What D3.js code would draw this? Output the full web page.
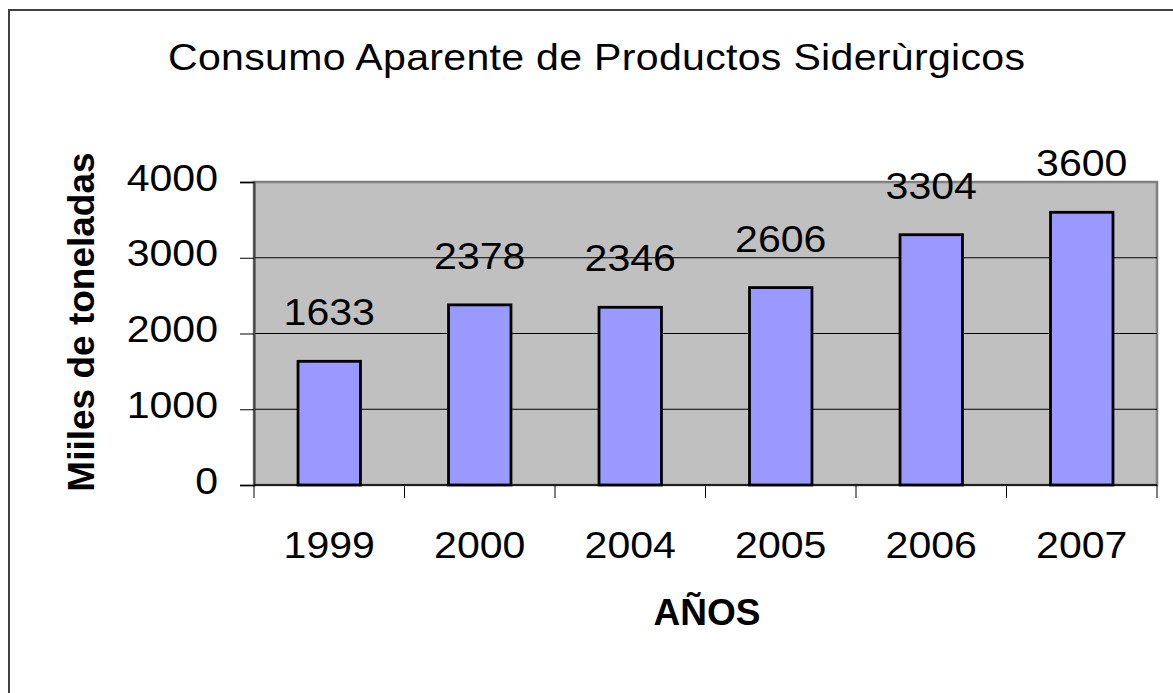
<!DOCTYPE html>
<html>
<head>
<meta charset="utf-8">
<script src="https://cdn.jsdelivr.net/npm/d3@7"></script>
<style>
  html, body { margin: 0; padding: 0; background: #fff; }
  svg { display: block; }
  text { font-family: "Liberation Sans", Arial, sans-serif; }
</style>
</head>
<body>
<svg id="chart" width="1173" height="693"></svg>
<script>
const categories = ["1999", "2000", "2004", "2005", "2006", "2007"];
const values = [1633, 2378, 2346, 2606, 3304, 3600];
const yTicks = [0, 1000, 2000, 3000, 4000];
const title = "Consumo Aparente de Productos Siderùrgicos";
const yTitle = "Miiles de toneladas";
const xTitle = "AÑOS";

const svg = d3.select("#chart");
const W = 1173, H = 693;
const plot = { left: 254, right: 1157, top: 182, bottom: 485 };
const SX = 1.11; // horizontal stretch of regular text

function stretchedText(g, px, py, anchor) {
  return g.append("text")
    .attr("transform", `translate(${px},${py}) scale(${SX},1)`)
    .attr("text-anchor", anchor).attr("font-size", 37).attr("fill", "#000");
}

// outer frame
svg.append("path")
  .attr("d", `M9,${H + 5} L9,10 L${W + 5},10`)
  .attr("fill", "none").attr("stroke", "#404040").attr("stroke-width", 2);

const x = d3.scaleBand().domain(categories)
  .range([plot.left, plot.right]).paddingInner(0.585).paddingOuter(0.2925);
const xOuter = d3.scaleBand().domain(categories).range([plot.left, plot.right]);
const y = d3.scaleLinear().domain([0, 4000]).range([plot.bottom, plot.top]);

// plot background
svg.append("rect")
  .attr("x", plot.left).attr("y", plot.top)
  .attr("width", plot.right - plot.left).attr("height", plot.bottom - plot.top)
  .attr("fill", "#C0C0C0").attr("stroke", "#808080").attr("stroke-width", 2.5);

// gridlines
svg.append("g").selectAll("line").data(yTicks.filter(d => d > 0 && d < 4000)).join("line")
  .attr("x1", plot.left).attr("x2", plot.right)
  .attr("y1", d => y(d)).attr("y2", d => y(d))
  .attr("stroke", "#000").attr("stroke-width", 1);

// bars
svg.append("g").selectAll("rect").data(values).join("rect")
  .attr("x", (d, i) => x(categories[i]))
  .attr("y", d => y(d))
  .attr("width", x.bandwidth())
  .attr("height", d => y(0) - y(d))
  .attr("fill", "#9999FF").attr("stroke", "#000").attr("stroke-width", 2.8);

// y axis
const yAxis = d3.axisLeft(y).tickValues(yTicks).tickSize(14).tickFormat(() => "");
const gy = svg.append("g").attr("transform", `translate(${plot.left},0)`).call(yAxis);
gy.select(".domain").attr("stroke", "#404040").attr("stroke-width", 2);
gy.selectAll(".tick line").attr("stroke", "#000").attr("stroke-width", 1);
const gyl = svg.append("g");
yTicks.forEach(t => {
  stretchedText(gyl, 218, y(t) + 8.5, "end").text(d3.format("d")(t));
});

// x axis line and boundary ticks
svg.append("line").attr("x1", plot.left).attr("x2", plot.right)
  .attr("y1", y(0)).attr("y2", y(0)).attr("stroke", "#000").attr("stroke-width", 1.5);
const bounds = categories.map(c => xOuter(c)).concat([plot.right]);
svg.append("g").selectAll("line").data(bounds).join("line")
  .attr("x1", d => d).attr("x2", d => d)
  .attr("y1", y(0)).attr("y2", y(0) + 13)
  .attr("stroke", "#000").attr("stroke-width", 1);
const gxl = svg.append("g");
categories.forEach(c => {
  stretchedText(gxl, xOuter(c) + xOuter.bandwidth() / 2, y(0) + 73, "middle").text(c);
});

// data labels
const gdl = svg.append("g");
values.forEach((v, i) => {
  stretchedText(gdl, xOuter(categories[i]) + xOuter.bandwidth() / 2, y(v) - 36, "middle").text(v);
});

// title
stretchedText(svg, 596.5, 70, "middle")
  .attr("textLength", 857 / SX).attr("lengthAdjust", "spacing")
  .text(title);

// y title
svg.append("text")
  .attr("transform", `translate(94,322) rotate(-90)`)
  .attr("text-anchor", "middle").attr("font-size", 37).attr("font-weight", "bold")
  .attr("fill", "#000").text(yTitle);

// x title
svg.append("text").attr("x", 707).attr("y", 625)
  .attr("text-anchor", "middle").attr("font-size", 37).attr("font-weight", "bold")
  .attr("fill", "#000").text(xTitle);
</script>
</body>
</html>
